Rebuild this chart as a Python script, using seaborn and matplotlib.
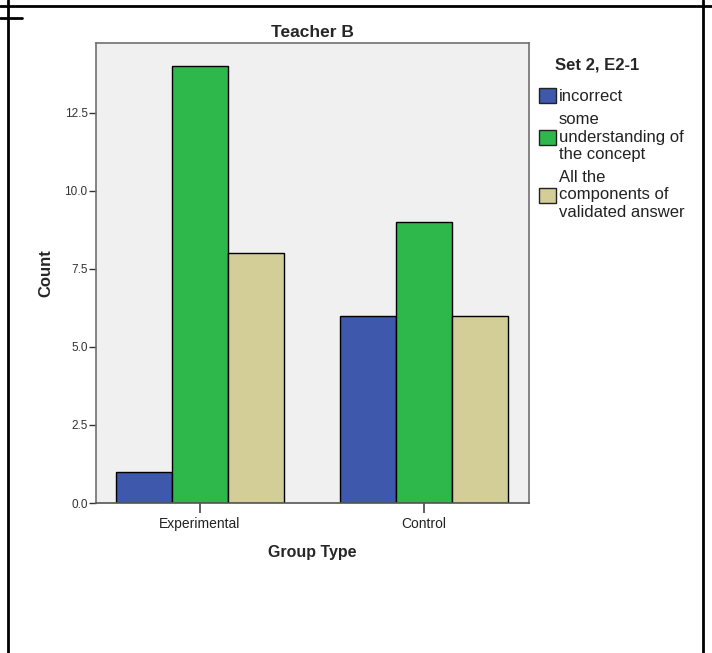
import matplotlib
matplotlib.use("Agg")
import matplotlib.pyplot as plt
from matplotlib.lines import Line2D
from matplotlib.patches import Patch
import seaborn as sns
import pandas as pd

groups = ["Experimental", "Control"]
categories = ["incorrect", "some\nunderstanding of\nthe concept", "All the\ncomponents of\nvalidated answer"]
incorrect = [1, 6]
some_understanding = [14, 9]
all_components = [8, 6]
colors = ["#3E58AC", "#2EB84B", "#D3CE97"]
yticks = [0.0, 2.5, 5.0, 7.5, 10.0, 12.5]

rows = []
for cat, vals in zip(categories, [incorrect, some_understanding, all_components]):
    for g, v in zip(groups, vals):
        rows.append({"Group Type": g, "Answer": cat, "Count": v})
df = pd.DataFrame(rows)

sns.set_theme(style="white")
plt.rcParams["font.family"] = ["Liberation Sans", "DejaVu Sans"]

fig = plt.figure(figsize=(7.12, 6.53), dpi=100)
ax = fig.add_axes([96/712, 1-503/653, 433/712, 460/653])
ax.set_facecolor("#F0F0F0")

sns.barplot(data=df, x="Group Type", y="Count", hue="Answer", order=groups,
            hue_order=categories, palette=colors, edgecolor="black", linewidth=1,
            width=0.75, saturation=1, ax=ax, legend=False)

ax.set_xlim(-0.464, 1.469)
ax.set_ylim(0, 14.74)
ax.set_yticks(yticks)
ax.set_yticklabels([f"{v:.1f}" for v in yticks], fontsize=8.5, color="#333333")
ax.tick_params(axis="y", direction="out", length=5, width=1, color="#333333", left=True, pad=1)
ax.tick_params(axis="x", direction="out", length=7, width=1.2, color="#444444", bottom=True,
               labelsize=10, labelcolor="#222222", pad=3)
for s in ax.spines.values():
    s.set_color("#707070")
    s.set_linewidth(1.2)
ax.spines["bottom"].set_color("#555555")
ax.set_xlabel("Group Type", fontsize=11.5, fontweight="bold", labelpad=10)
ax.set_ylabel("Count", fontsize=12, fontweight="bold", labelpad=8)
ax.set_title("Teacher B", fontsize=12.5, fontweight="bold", pad=4)

handles = [Patch(facecolor=c, edgecolor="#222222", linewidth=1) for c in colors]
leg = fig.legend(handles, categories, loc="upper left", bbox_to_anchor=(539/712, 1-88/653),
                 frameon=False, fontsize=12, handlelength=1.0, handleheight=1.0,
                 handletextpad=0.18, labelspacing=0.48, borderpad=0, borderaxespad=0)
for t in leg.get_texts():
    t.set_linespacing(1.2)
    t.set_color("#222222")
fig.text(555/712, 1-65/653, "Set 2, E2-1", fontsize=12, fontweight="bold", va="center", ha="left")

# surrounding table-cell borders
lw = 2
fig.add_artist(Line2D([8/712, 8/712], [0, 1], transform=fig.transFigure, color="black", lw=lw))
fig.add_artist(Line2D([703/712, 703/712], [0, 1], transform=fig.transFigure, color="black", lw=lw))
fig.add_artist(Line2D([0, 712/712], [1-6/653, 1-6/653], transform=fig.transFigure, color="black", lw=lw))
fig.add_artist(Line2D([0, 22/712], [1-18/653, 1-18/653], transform=fig.transFigure, color="black", lw=lw))

fig.savefig("out.png", dpi=100, facecolor="white")
